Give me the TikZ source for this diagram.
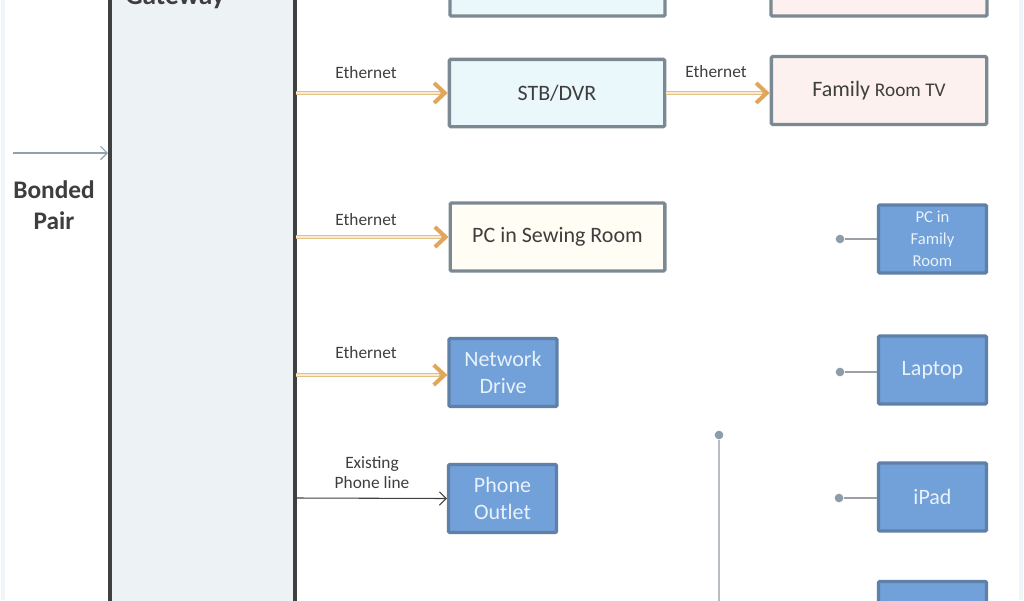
\documentclass[tikz,border=0pt]{standalone}
\usepackage{fontspec}
\setmainfont{Carlito}
\usetikzlibrary{arrows.meta}
\definecolor{boxb}{HTML}{7B8993}
\definecolor{stbf}{HTML}{EAF7FB}
\definecolor{tvf}{HTML}{FDF1EF}
\definecolor{sewf}{HTML}{FFFDF4}
\definecolor{bluef}{HTML}{72A0D9}
\definecolor{blueb}{HTML}{5F80A8}
\definecolor{bluet}{HTML}{E8F2FB}
\definecolor{txt}{HTML}{3E3E3E}
\definecolor{gwf}{HTML}{EDF2F4}
\definecolor{gwb}{HTML}{404040}
\definecolor{etho}{HTML}{E3BF86}
\definecolor{ethi}{HTML}{F7EBD8}
\definecolor{etht}{HTML}{E2A65A}
\definecolor{dotc}{HTML}{8C9CA8}
\definecolor{wlc}{HTML}{9AA0A6}
\definecolor{vlc}{HTML}{B8BEC4}
\definecolor{bpc}{HTML}{8FA3AB}
\definecolor{edgec}{HTML}{EEF6FA}
\tikzset{
  lbox/.style={draw=boxb, line width=2.5pt, rounded corners=1pt, text=txt, align=center, inner sep=0pt,
    font=\fontsize{16.5}{20}\selectfont},
  bbox/.style={draw=blueb, fill=bluef, line width=2.5pt, rounded corners=1pt, text=bluet, align=center, inner sep=0pt,
    minimum width=81pt, minimum height=51pt, font=\fontsize{16.5}{20.25}\selectfont},
  gwbox/.style={draw=gwb, fill=gwf, line width=3pt, inner sep=0pt},
  eth/.style={draw=etho, line width=3.6pt, -{Straight Barb[length=8pt,width=15pt,line width=3pt,color=etht]},
    postaction={draw=ethi, line width=1.2pt, -, shorten >=6pt}},
  phl/.style={draw=gwb, line width=0.8pt, -{Straight Barb[length=5pt,width=10pt,line width=0.8pt]}},
  bpl/.style={draw=bpc, line width=0.8pt, -{Straight Barb[length=5pt,width=10pt,line width=0.8pt]}},
  lbl/.style={text=txt, font=\fontsize{13}{15}\selectfont, align=center, inner sep=0pt},
  dotn/.style={circle, fill=dotc, inner sep=0pt, minimum size=6.5pt},
  wl/.style={draw=wlc, line width=0.9pt},
  vl/.style={draw=vlc, line width=1.3pt},
}
\begin{document}
\begin{tikzpicture}[x=0.75pt, y=-0.75pt]
\useasboundingbox (0,0) rectangle (1024,600);
\clip (0,0) rectangle (1024,600);
\fill[white] (0,0) rectangle (1024,600);
\draw[edgec, line width=2.5pt] (3,0) -- (3,600);
\draw[edgec, line width=2.5pt] (1021,0) -- (1021,600);

% gateway
\node[gwbox, minimum width=138.75pt, minimum height=750pt] (gw) at (202.5,300) {};
\node[anchor=base west, text=txt, font=\bfseries\fontsize{20.5}{24}\selectfont, inner sep=0pt] (gwl) at (125,4) {Gateway};

% bonded pair
\coordinate (bp0) at (13,153);
\draw[bpl] (bp0) -- (bp0 -| gw.west);
\node[text=txt, font=\bfseries\fontsize{19}{23.5}\selectfont, align=center, inner sep=0pt] (bpt) at (54,205) {Bonded\\Pair};

% top partial boxes
\node[lbox, fill=stbf, minimum width=161.25pt, minimum height=49.5pt] (topl) at (557.5,-17) {};
\node[lbox, fill=tvf, minimum width=162pt, minimum height=49.5pt] (topr) at (879,-17) {};

% boxes
\node[lbox, fill=stbf, minimum width=161.5pt, minimum height=50.5pt] (stb) at (557,93) {STB/DVR};
\node[lbox, fill=tvf, minimum width=161.5pt, minimum height=51pt] (tv) at (879,90.5) {Family {\fontsize{14.5}{18}\selectfont Room TV}};
\node[lbox, fill=sewf, minimum width=161pt, minimum height=51pt] (sew) at (557.5,237) {PC in Sewing Room};
\node[bbox] (nd) at (503,372.5) {Network\\Drive};
\node[bbox] (po) at (502.5,498.5) {Phone\\Outlet};
\node[bbox, font=\fontsize{12.5}{16.5}\selectfont] (pcf) at (932.5,239) {PC in\\Family\\Room};
\node[bbox] (lap) at (932.5,370) {Laptop};
\node[bbox] (ipad) at (932.5,497) {iPad};
\node[bbox] (bot) at (932.5,615.5) {};

% ethernet connectors
\coordinate (g1) at (296,93);
\coordinate (g2) at (296,237);
\coordinate (g3) at (296,375);
\coordinate (g4) at (296,498);
\draw[eth] (g1) -- (stb.west);
\draw[eth] (stb.east) -- (stb.east -| tv.west);
\draw[eth] (g2) -- (sew.west);
\draw[eth] (g3) -- (g3 -| nd.west);
\draw[phl] (g4) -- (po.west);

\node[lbl] (e1) at (366,73) {Ethernet};
\node[lbl] (e2) at (716,72) {Ethernet};
\node[lbl] (e3) at (366,220) {Ethernet};
\node[lbl] (e4) at (366,353) {Ethernet};
\node[lbl] (e5) at (372,473) {Existing\\Phone line};

% wireless dots
\node[dotn] (d1) at (840,239) {};
\node[dotn] (d2) at (840,372) {};
\node[dotn] (d3) at (839,498) {};
\draw[wl] (d1) -- (pcf.west);
\draw[wl] (d2) -- (d2 -| lap.west);
\draw[wl] (d3) -- (d3 -| ipad.west);

\node[dotn] (d4) at (719,435) {};
\coordinate (v4) at (719,620);
\draw[vl] (d4) -- (v4);
\end{tikzpicture}
\end{document}
